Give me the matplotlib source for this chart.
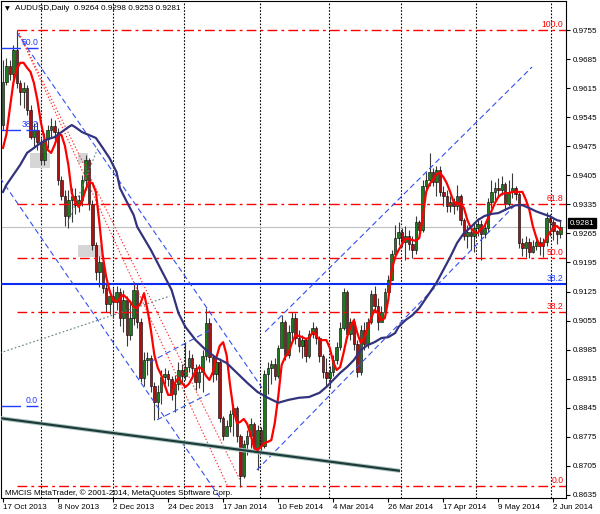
import matplotlib
matplotlib.use("Agg")
import matplotlib.pyplot as plt
from matplotlib.patches import Rectangle
from matplotlib.transforms import blended_transform_factory

plt.rcParams["font.family"] = ["Liberation Sans", "DejaVu Sans"]

# --- price data (daily bars, index 0 = 17 Oct 2013) ---
opens = [
    0.9526, 0.9630, 0.9668, 0.9649, 0.9707, 0.9627, 0.9606, 0.9616, 0.9562, 0.9497,
    0.9514, 0.9485, 0.9442, 0.9492, 0.9514, 0.9524, 0.9509, 0.9394, 0.9355, 0.9307,
    0.9346, 0.9355, 0.9334, 0.9346, 0.9394, 0.9442, 0.9336, 0.9237, 0.9172, 0.9196,
    0.9133, 0.9095, 0.9114, 0.9100, 0.9124, 0.9061, 0.9105, 0.9020, 0.9061, 0.9129,
    0.9052, 0.8917, 0.8960, 0.8965, 0.8897, 0.8859, 0.8883, 0.8919, 0.8926, 0.8914,
    0.8878, 0.8902, 0.8936, 0.8922, 0.8943, 0.8965, 0.8941, 0.8907, 0.8931, 0.8970,
    0.9049, 0.8967, 0.8926, 0.8955, 0.8820, 0.8777, 0.8801, 0.8830, 0.8844, 0.8777,
    0.8681, 0.8758, 0.8777, 0.8806, 0.8748, 0.8791, 0.8753, 0.8926, 0.8941, 0.8950,
    0.8922, 0.8989, 0.9052, 0.8972, 0.9027, 0.9061, 0.9013, 0.8994, 0.9008, 0.8970,
    0.9023, 0.9037, 0.9013, 0.8970, 0.8931, 0.8917, 0.8931, 0.8960, 0.8991, 0.9037,
    0.9124, 0.9023, 0.9052, 0.8999, 0.8931, 0.9032, 0.8999, 0.9052, 0.9119, 0.9090,
    0.9052, 0.9076, 0.9124, 0.9153, 0.9215, 0.9254, 0.9268, 0.9244, 0.9259, 0.9239,
    0.9225, 0.9292, 0.9273, 0.9379, 0.9394, 0.9413, 0.9389, 0.9418, 0.9365, 0.9355,
    0.9331, 0.9341, 0.9331, 0.9355, 0.9297, 0.9259, 0.9268, 0.9259, 0.9278, 0.9288,
    0.9264, 0.9278, 0.9341, 0.9365, 0.9374, 0.9370, 0.9384, 0.9336, 0.9365, 0.9374,
    0.9360, 0.9242, 0.9230, 0.9244, 0.9220, 0.9235, 0.9244, 0.9235, 0.9244, 0.9302,
    0.9292, 0.9270, 0.9264,
]
highs = [
    0.9683, 0.9688, 0.9683, 0.9719, 0.9755, 0.9635, 0.9630, 0.9623, 0.9574, 0.9531,
    0.9533, 0.9495, 0.9507, 0.9526, 0.9543, 0.9538, 0.9519, 0.9403, 0.9370, 0.9370,
    0.9374, 0.9374, 0.9358, 0.9406, 0.9454, 0.9446, 0.9346, 0.9244, 0.9211, 0.9213,
    0.9143, 0.9129, 0.9133, 0.9138, 0.9133, 0.9129, 0.9114, 0.9105, 0.9148, 0.9143,
    0.9061, 0.8979, 0.8979, 0.8972, 0.8907, 0.8900, 0.8936, 0.8941, 0.8936, 0.8922,
    0.8924, 0.8955, 0.8950, 0.9003, 0.8984, 0.8975, 0.8950, 0.8950, 0.8984, 0.9085,
    0.9061, 0.8972, 0.8975, 0.8965, 0.8825, 0.8816, 0.8840, 0.8854, 0.8849, 0.8782,
    0.8767, 0.8791, 0.8820, 0.8811, 0.8803, 0.8798, 0.8936, 0.8955, 0.8960, 0.8965,
    0.8996, 0.9068, 0.9056, 0.9044, 0.9076, 0.9073, 0.9032, 0.9020, 0.9013, 0.9032,
    0.9052, 0.9042, 0.9018, 0.8975, 0.8965, 0.8946, 0.8972, 0.9003, 0.9052, 0.9133,
    0.9128, 0.9061, 0.9061, 0.9008, 0.9044, 0.9052, 0.9061, 0.9129, 0.9138, 0.9109,
    0.9090, 0.9133, 0.9165, 0.9225, 0.9285, 0.9292, 0.9278, 0.9283, 0.9273, 0.9259,
    0.9307, 0.9297, 0.9394, 0.9413, 0.9459, 0.9422, 0.9427, 0.9427, 0.9379, 0.9370,
    0.9355, 0.9350, 0.9382, 0.9360, 0.9302, 0.9285, 0.9283, 0.9292, 0.9302, 0.9297,
    0.9288, 0.9350, 0.9394, 0.9389, 0.9399, 0.9403, 0.9389, 0.9394, 0.9411, 0.9379,
    0.9365, 0.9254, 0.9259, 0.9254, 0.9249, 0.9259, 0.9256, 0.9254, 0.9317, 0.9312,
    0.9300, 0.9273, 0.9298,
]
lows = [
    0.9514, 0.9623, 0.9635, 0.9635, 0.9616, 0.9574, 0.9567, 0.9550, 0.9492, 0.9471,
    0.9466, 0.9430, 0.9430, 0.9471, 0.9495, 0.9485, 0.9382, 0.9346, 0.9283, 0.9278,
    0.9292, 0.9312, 0.9317, 0.9331, 0.9370, 0.9322, 0.9225, 0.9153, 0.9136, 0.9121,
    0.9076, 0.9071, 0.9061, 0.9081, 0.9042, 0.9027, 0.8994, 0.9008, 0.9044, 0.9037,
    0.8907, 0.8897, 0.8924, 0.8883, 0.8816, 0.8820, 0.8854, 0.8902, 0.8897, 0.8864,
    0.8835, 0.8888, 0.8902, 0.8912, 0.8931, 0.8922, 0.8888, 0.8893, 0.8883, 0.8960,
    0.8955, 0.8907, 0.8912, 0.8811, 0.8767, 0.8782, 0.8787, 0.8777, 0.8763, 0.8654,
    0.8676, 0.8731, 0.8748, 0.8738, 0.8695, 0.8738, 0.8748, 0.8878, 0.8902, 0.8912,
    0.8917, 0.9003, 0.8960, 0.8965, 0.9008, 0.8999, 0.8979, 0.8965, 0.8955, 0.8965,
    0.9013, 0.8999, 0.8955, 0.8917, 0.8897, 0.8893, 0.8922, 0.8950, 0.8984, 0.9032,
    0.9013, 0.9008, 0.8984, 0.8919, 0.8924, 0.8984, 0.8989, 0.9047, 0.9076, 0.9032,
    0.9056, 0.9066, 0.9117, 0.9153, 0.9211, 0.9237, 0.9232, 0.9201, 0.9225, 0.9206,
    0.9215, 0.9254, 0.9268, 0.9360, 0.9379, 0.9379, 0.9355, 0.9355, 0.9331, 0.9317,
    0.9317, 0.9312, 0.9322, 0.9285, 0.9249, 0.9230, 0.9225, 0.9220, 0.9259, 0.9201,
    0.9254, 0.9268, 0.9326, 0.9346, 0.9355, 0.9358, 0.9322, 0.9331, 0.9350, 0.9346,
    0.9230, 0.9211, 0.9208, 0.9206, 0.9218, 0.9225, 0.9213, 0.9208, 0.9235, 0.9259,
    0.9249, 0.9239, 0.9253,
]
closes = [
    0.9630, 0.9668, 0.9649, 0.9707, 0.9627, 0.9606, 0.9616, 0.9562, 0.9497, 0.9514,
    0.9485, 0.9442, 0.9492, 0.9514, 0.9524, 0.9509, 0.9394, 0.9355, 0.9307, 0.9346,
    0.9355, 0.9334, 0.9346, 0.9394, 0.9442, 0.9336, 0.9237, 0.9172, 0.9196, 0.9133,
    0.9095, 0.9114, 0.9100, 0.9124, 0.9061, 0.9105, 0.9020, 0.9061, 0.9129, 0.9052,
    0.8917, 0.8960, 0.8965, 0.8897, 0.8859, 0.8883, 0.8919, 0.8926, 0.8914, 0.8878,
    0.8902, 0.8936, 0.8922, 0.8943, 0.8965, 0.8941, 0.8907, 0.8931, 0.8970, 0.9049,
    0.8967, 0.8926, 0.8955, 0.8820, 0.8777, 0.8801, 0.8830, 0.8844, 0.8777, 0.8681,
    0.8758, 0.8777, 0.8806, 0.8748, 0.8791, 0.8753, 0.8926, 0.8941, 0.8950, 0.8922,
    0.8989, 0.9052, 0.8972, 0.9027, 0.9061, 0.9013, 0.8994, 0.9008, 0.8970, 0.9023,
    0.9037, 0.9013, 0.8970, 0.8931, 0.8917, 0.8931, 0.8960, 0.8991, 0.9037, 0.9124,
    0.9023, 0.9052, 0.8999, 0.8931, 0.9032, 0.8999, 0.9052, 0.9119, 0.9090, 0.9052,
    0.9076, 0.9124, 0.9153, 0.9215, 0.9254, 0.9268, 0.9244, 0.9259, 0.9239, 0.9225,
    0.9292, 0.9273, 0.9379, 0.9394, 0.9413, 0.9389, 0.9418, 0.9365, 0.9355, 0.9331,
    0.9341, 0.9331, 0.9355, 0.9297, 0.9259, 0.9268, 0.9259, 0.9278, 0.9288, 0.9264,
    0.9278, 0.9341, 0.9365, 0.9374, 0.9370, 0.9384, 0.9336, 0.9365, 0.9374, 0.9360,
    0.9242, 0.9230, 0.9244, 0.9220, 0.9235, 0.9244, 0.9235, 0.9244, 0.9302, 0.9292,
    0.9270, 0.9264, 0.9281,
]

# indicator lines
ma_fast = [
    0.9471, 0.9504, 0.9567, 0.9627, 0.9661, 0.9676, 0.9676, 0.9664, 0.9654, 0.9627,
    0.9586, 0.9533, 0.9495, 0.9466, 0.9459, 0.9478, 0.9502, 0.9502, 0.9476, 0.9430,
    0.9362, 0.9341, 0.9329, 0.9343, 0.9370, 0.9389, 0.9386, 0.9365, 0.9292, 0.9211,
    0.9160, 0.9126, 0.9105, 0.9100, 0.9109, 0.9117, 0.9109, 0.9100, 0.9088, 0.9085,
    0.9097, 0.9121, 0.9081, 0.9032, 0.8972, 0.8941, 0.8924, 0.8900, 0.8876, 0.8876,
    0.8905, 0.8917, 0.8905, 0.8895, 0.8902, 0.8917, 0.8934, 0.8943, 0.8938, 0.8922,
    0.8912, 0.8931, 0.8965, 0.8994, 0.9003, 0.8972, 0.8900, 0.8840, 0.8808, 0.8811,
    0.8818, 0.8806, 0.8780, 0.8748, 0.8743, 0.8751, 0.8760, 0.8763, 0.8767, 0.8808,
    0.8871, 0.8948, 0.8967, 0.8977, 0.9001, 0.9020, 0.9018, 0.9015, 0.9011, 0.9013,
    0.9027, 0.9020, 0.9008, 0.9008, 0.9008, 0.8989, 0.8955, 0.8936, 0.8943, 0.8977,
    0.9015, 0.9040, 0.9056, 0.9025, 0.9001, 0.9013, 0.9037, 0.9061, 0.9081, 0.9073,
    0.9056, 0.9061, 0.9105, 0.9177, 0.9208, 0.9225, 0.9239, 0.9252, 0.9252, 0.9249,
    0.9247, 0.9254, 0.9302, 0.9365, 0.9384, 0.9394, 0.9408, 0.9411, 0.9401, 0.9386,
    0.9365, 0.9341, 0.9338, 0.9338, 0.9326, 0.9297, 0.9278, 0.9268, 0.9266, 0.9276,
    0.9283, 0.9302, 0.9319, 0.9338, 0.9353, 0.9360, 0.9362, 0.9362, 0.9365, 0.9365,
    0.9365, 0.9365, 0.9346, 0.9322, 0.9283, 0.9256, 0.9235, 0.9237, 0.9254, 0.9268,
    0.9278, 0.9283, 0.9275,
]
ma_slow_bars = [0, 1, 3, 5, 7, 9, 11, 13, 15, 17, 19, 20, 21, 23, 25, 27, 29, 31, 33, 34,
                36, 38, 39, 43, 46, 49, 51, 53, 56, 59, 62, 65, 68, 71, 74, 77, 80, 83, 86, 89,
                92, 94, 96, 98, 100, 102, 104, 106, 108, 110, 112, 114, 115, 117, 119, 121, 126,
                128, 130, 132, 134, 136, 138, 140, 142, 144, 145, 147, 149, 151, 153, 155, 157,
                159, 161, 162]
ma_slow = [0.9365, 0.9382, 0.9406, 0.9430, 0.9459, 0.9471, 0.9483, 0.9492, 0.9497, 0.9509,
           0.9521, 0.9526, 0.9521, 0.9509, 0.9502, 0.9495, 0.9471, 0.9446, 0.9413, 0.9374,
           0.9341, 0.9309, 0.9281, 0.9225, 0.9177, 0.9129, 0.9073, 0.9040, 0.9008, 0.8984,
           0.8965, 0.8953, 0.8929, 0.8905, 0.8883, 0.8869, 0.8857, 0.8864, 0.8869, 0.8871,
           0.8881, 0.8895, 0.8912, 0.8929, 0.8943, 0.8960, 0.8984, 0.8996, 0.9003, 0.9013,
           0.9015, 0.9025, 0.9040, 0.9056, 0.9068, 0.9085, 0.9146, 0.9177, 0.9208, 0.9242,
           0.9266, 0.9280, 0.9297, 0.9307, 0.9312, 0.9314, 0.9318, 0.9326, 0.9333, 0.9333,
           0.9326, 0.9318, 0.9312, 0.9306, 0.9297, 0.9295]

date_bars = [0, 16, 32, 48, 64, 80, 96, 112, 128, 144, 160]
date_labels = ["17 Oct 2013", "8 Nov 2013", "2 Dec 2013", "24 Dec 2013", "17 Jan 2014",
               "10 Feb 2014", "4 Mar 2014", "26 Mar 2014", "17 Apr 2014", "9 May 2014",
               "2 Jun 2014"]
price_ticks = [0.9755, 0.9685, 0.9615, 0.9545, 0.9475, 0.9405, 0.9335, 0.9265, 0.9195,
               0.9125, 0.9055, 0.8985, 0.8915, 0.8845, 0.8775, 0.8705, 0.8635]

# drawn objects: (bar, price) anchors
fib_levels = [0.9755, 0.9336, 0.9206, 0.9076, 0.8657]
fib_labels = ["100.0", "61.8", "50.0", "38.2", "0.0"]
fib_start_bar = 4
blue_fib_levels = [0.9712, 0.9514, 0.8849]
blue_fib_labels = ["50.0", "38.2", "0.0"]
blue_level = 0.9143
blue_level_label = "38.2"
chan_down_upper = [(4.07, 0.9748), (75.3, 0.8893)]
chan_down_lower = [(-0.87, 0.9399), (63.1, 0.8628)]
flag_upper = [(42.7, 0.8955), (60.2, 0.9032)]
flag_lower = [(44.8, 0.8816), (61.0, 0.8883)]
chan_up_upper = [(76.2, 0.9028), (153.8, 0.9666)]
chan_up_lower = [(73.8, 0.8695), (149.4, 0.9338)]
support_line = [(-0.87, 0.8820), (115.4, 0.8693)]
gray_dot_1 = [(-0.87, 0.8977), (48.5, 0.9114)]
gray_dot_2 = [(18.9, 0.9292), (27.6, 0.9471)]
red_dot_1 = [(4.2, 0.9755), (65.4, 0.8654)]
red_dot_2 = [(4.2, 0.9755), (68.9, 0.8671)]
gray_boxes = [((7.85, 0.9423), (13.66, 0.9459)), ((21.8, 0.9435), (24.7, 0.9459)),
              ((21.8, 0.9208), (28.8, 0.9237))]
grid_bars = [11.0, 32.0, 52.6, 74.7, 94.8, 115.7, 137.5, 159.3]

fig = plt.figure(figsize=(6.0, 5.14), dpi=100)
ax = fig.add_axes([1 / 600, 16 / 514, 565 / 600, 497 / 514])
ax.set_xlim(-0.58, 163.66)
ax.set_ylim(0.86276, 0.98249)

for x in grid_bars:
    ax.axvline(x, color="black", lw=0.8, linestyle=(0, (1.5, 1.5)), zorder=1)

for (x0, y0), (x1, y1) in gray_boxes:
    ax.add_patch(Rectangle((x0, y0), x1 - x0, y1 - y0, facecolor="#d6d6d6",
                           edgecolor="none", zorder=1))

last = closes[-1]
ax.axhline(last, color="#c0c0c0", lw=0.8, zorder=1)

# candles
for i in range(len(closes)):
    o, h, l, c = opens[i], highs[i], lows[i], closes[i]
    ax.vlines(i, l, h, color="#3a3a3a", lw=0.8, zorder=2)
    col = "#1e7a1e" if c >= o else "#a81212"
    bot = min(o, c)
    hgt = max(abs(c - o), 0.00008)
    ax.add_patch(Rectangle((i - 0.36, bot), 0.72, hgt, facecolor=col,
                           edgecolor="black", lw=0.4, zorder=2))

# fibonacci (red)
for lev, lab in zip(fib_levels, fib_labels):
    ax.plot([fib_start_bar, 163.66], [lev, lev], color="#ff0000", lw=1.0,
            dashes=(7, 3, 2, 3), zorder=3)
    ax.text(162.9, lev + 0.0003, lab, color="#ff0000", fontsize=6.2,
            ha="right", va="bottom", zorder=5)

# blue fib (left part) and full-width level
for lev, lab in zip(blue_fib_levels, blue_fib_labels):
    ax.plot([-0.58, 10.2], [lev, lev], color="#1f3cff", lw=1.0,
            dashes=(14, 4), zorder=3)
    ax.text(10.2, lev + 0.0003, lab, color="#1f3cff", fontsize=6.2,
            ha="right", va="bottom", zorder=5)
ax.axhline(blue_level, color="#0a2cf0", lw=1.5, zorder=3)
ax.text(162.9, blue_level + 0.0003, blue_level_label, color="#1f3cff",
        fontsize=6.2, ha="right", va="bottom", zorder=5)

def seg(pts, **kw):
    ax.plot([p[0] for p in pts], [p[1] for p in pts], **kw)

for pts in (chan_down_upper, chan_down_lower, flag_upper, flag_lower,
            chan_up_upper, chan_up_lower):
    seg(pts, color="#3350f0", lw=0.8, dashes=(5, 3), zorder=3)

for pts in (red_dot_1, red_dot_2):
    seg(pts, color="#ff2a2a", lw=0.8, dashes=(1.2, 1.8), zorder=3)

for pts in (gray_dot_1, gray_dot_2):
    seg(pts, color="#5f7f7f", lw=0.8, dashes=(1.5, 2), zorder=3)

seg(support_line, color="#a9c7bf", lw=3.0, zorder=3, solid_capstyle="butt")
seg(support_line, color="#1e3a3a", lw=1.6, zorder=3, solid_capstyle="butt")

# moving averages
ax.plot(range(len(ma_fast)), ma_fast, color="#ff0000", lw=1.6, zorder=4)
ax.plot(ma_slow_bars, ma_slow, color="#33337d", lw=1.6, zorder=4)

# axes styling
ax.yaxis.tick_right()
ax.set_yticks(price_ticks)
ax.set_yticklabels([f"{p:.4f}" for p in price_ticks])
ax.set_xticks(date_bars)
ax.set_xticklabels(date_labels)
for lbl in ax.get_xticklabels():
    lbl.set_ha("left")
ax.tick_params(axis="y", direction="out", length=3, width=0.8, pad=2,
               labelsize=5.8, colors="black")
ax.tick_params(axis="x", direction="out", length=3, width=0.8, pad=1,
               labelsize=5.8, colors="black")
for sp in ax.spines.values():
    sp.set_linewidth(0.8)
    sp.set_color("black")

tr = blended_transform_factory(ax.transAxes, ax.transData)
ax.text(1.006, last + 0.0009, f"{last:.4f}", transform=tr, color="white",
        fontsize=5.8, ha="left", va="center", clip_on=False, zorder=10,
        bbox=dict(boxstyle="square,pad=0.2", fc="black", ec="black"))

fig.text(5 / 600, 1 - 9 / 514, "\u25bc", fontsize=4.5, va="center", ha="left",
         family=["DejaVu Sans"])
fig.text(15 / 600, 1 - 9 / 514,
         f"AUDUSD,Daily  {opens[-1]:.4f} {highs[-1]:.4f} {lows[-1]:.4f} {closes[-1]:.4f}",
         fontsize=5.9, va="center", ha="left")
fig.text(5 / 600, 1 - 493 / 514,
         "MMCIS MetaTrader, \u00a9 2001-2014, MetaQuotes Software Corp.",
         fontsize=5.9, va="center", ha="left")

fig.savefig("out.png", dpi=100)
